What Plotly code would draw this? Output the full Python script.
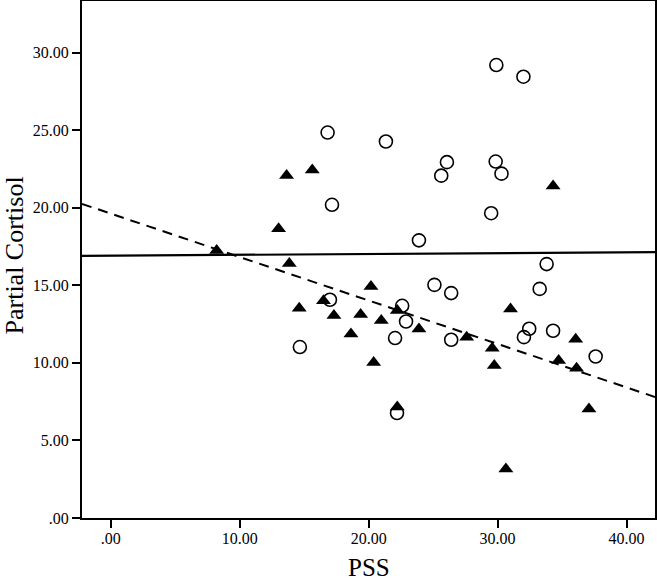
import plotly.graph_objects as go

# Open circles group
circle_pss = [16.82, 21.34, 17.16, 26.07, 25.63, 29.9, 32.0, 29.85, 30.3, 29.5, 23.9, 33.8, 25.1,
              26.4, 33.26, 22.6, 22.9, 22.05, 26.4, 32.45, 32.04, 34.3, 37.6, 22.2, 14.67, 17.0]
circle_cortisol = [24.85, 24.27, 20.19, 22.94, 22.07, 29.2, 28.45, 22.98, 22.2, 19.65, 17.9, 16.37, 15.03,
                   14.5, 14.77, 13.68, 12.67, 11.6, 11.49, 12.2, 11.66, 12.07, 10.41, 6.77, 11.02, 14.07]

# Filled triangles group
tri_pss = [13.64, 15.63, 13.02, 8.22, 13.85, 20.18, 14.62, 16.5, 17.31, 19.38, 20.98, 18.63, 22.22,
           20.39, 22.22, 23.9, 31.0, 27.6, 29.58, 29.74, 36.05, 34.73, 36.12, 37.08, 30.64, 34.3]
tri_cortisol = [22.08, 22.44, 18.64, 17.24, 16.4, 14.92, 13.53, 14.0, 13.05, 13.12, 12.73, 11.87, 13.38,
                10.03, 7.15, 12.18, 13.47, 11.66, 10.95, 9.83, 11.53, 10.15, 9.66, 7.02, 3.16, 21.41]

# Fit lines (endpoints at the axis edges)
fit_x = [-2.22, 42.2]
fit_circle_y = [16.9, 17.14]
fit_tri_y = [20.25, 7.8]

x_ticks = [0, 10, 20, 30, 40]
x_tick_labels = [".00", "10.00", "20.00", "30.00", "40.00"]
y_ticks = [0, 5, 10, 15, 20, 25, 30]
y_tick_labels = [".00", "5.00", "10.00", "15.00", "20.00", "25.00", "30.00"]

FONT = "Liberation Serif, Times New Roman, serif"

fig = go.Figure()
fig.add_trace(go.Scatter(x=fit_x, y=fit_circle_y, mode="lines",
                         line=dict(color="black", width=2.2), showlegend=False, hoverinfo="skip"))
fig.add_trace(go.Scatter(x=fit_x, y=fit_tri_y, mode="lines",
                         line=dict(color="black", width=2, dash="10px,7px"), showlegend=False, hoverinfo="skip"))
fig.add_trace(go.Scatter(x=circle_pss, y=circle_cortisol, mode="markers",
                         marker=dict(symbol="circle-open", size=13, color="black", line=dict(width=1.6)),
                         showlegend=False))
fig.add_trace(go.Scatter(x=tri_pss, y=tri_cortisol, mode="markers",
                         marker=dict(symbol="triangle-up", size=13, color="black"),
                         showlegend=False))

fig.update_layout(
    width=657, height=580,
    margin=dict(l=82, r=2, t=1, b=62, autoexpand=False),
    paper_bgcolor="white", plot_bgcolor="white",
    font=dict(family=FONT, color="black"),
    showlegend=False,
    annotations=[
        dict(text="PSS", xref="paper", yref="paper", x=0.5, y=0, xanchor="center", yanchor="middle",
             yshift=-49, showarrow=False, font=dict(family=FONT, size=25, color="black")),
        dict(text="Partial Cortisol", xref="paper", yref="paper", x=0, y=0.5, xanchor="center",
             yanchor="middle", xshift=-68, yshift=4, textangle=-90, showarrow=False,
             font=dict(family=FONT, size=26, color="black")),
    ],
)
fig.update_xaxes(
    range=[-2.22, 42.2], tickvals=x_ticks, ticktext=x_tick_labels, automargin=False,
    showgrid=False, zeroline=False, showline=True, linecolor="black", linewidth=2, mirror=True,
    ticks="outside", ticklen=8, tickwidth=2, tickcolor="black", ticklabelstandoff=-3,
    tickfont=dict(family=FONT, size=16, color="black"),
)
fig.update_yaxes(
    range=[0, 33.33], tickvals=y_ticks, ticktext=y_tick_labels, automargin=False,
    showgrid=False, zeroline=False, showline=True, linecolor="black", linewidth=2, mirror=True,
    ticks="outside", ticklen=8, tickwidth=2, tickcolor="black",
    tickfont=dict(family=FONT, size=16, color="black"),
)

fig.write_html("out.html", config={"displayModeBar": False},
               post_script="document.body.style.margin='0';document.body.style.overflow='hidden';")
